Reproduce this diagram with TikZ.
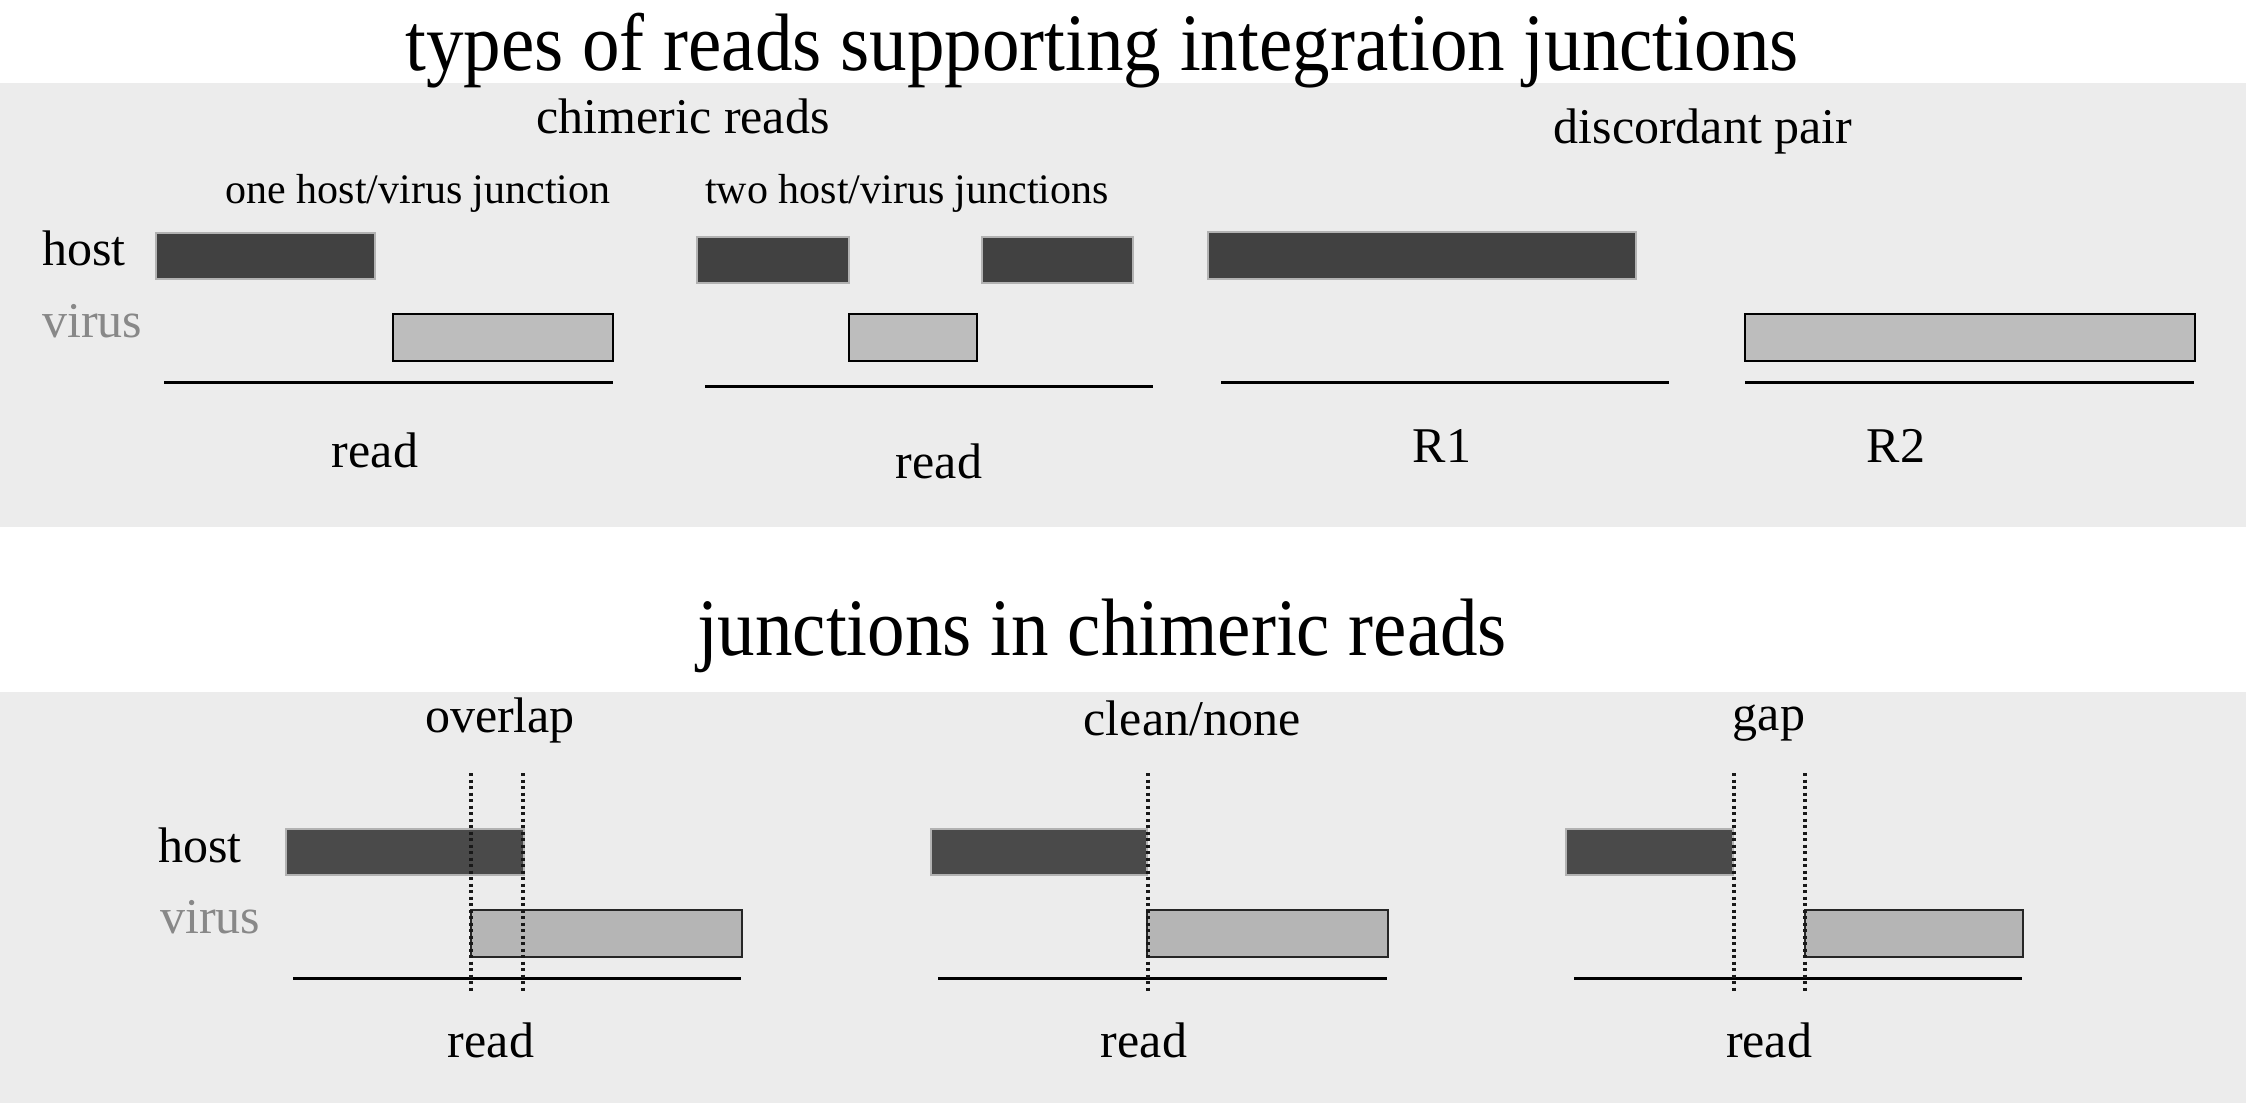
\documentclass[tikz,border=0pt]{standalone}
\usepackage{fontspec}
\setmainfont{Liberation Serif}
\newfontfamily\titlefont[FakeStretch=0.92]{Liberation Serif}
\usetikzlibrary{positioning}

\definecolor{panelgray}{HTML}{ECECEC}
\definecolor{hostgray}{HTML}{414141}
\definecolor{hostgrayb}{HTML}{4A4A4A}
\definecolor{virusgray}{HTML}{BDBDBD}
\definecolor{virusgrayb}{HTML}{B5B5B5}
\definecolor{viruslabel}{HTML}{888888}

\begin{document}
\begin{tikzpicture}[x=1pt, y=-1pt,
                          panel/.style={fill=panelgray, draw=none},
                          hostbar/.style={fill=hostgray, draw=gray!60, line width=1.5pt},
                          hostbar_b/.style={fill=hostgrayb, draw=gray!60, line width=1.5pt},
                          virusbar/.style={fill=virusgray, draw=black, line width=2pt},
                          virusbar_b/.style={fill=virusgrayb, draw=black!85, line width=2pt},
                          readline/.style={draw=black, line width=3pt},
                          junctionline/.style={draw=black!90, line width=3.5pt, dash pattern=on 3pt off 3.5pt},
                          bigtitle/.style={anchor=base, inner sep=0pt, font=\titlefont\fontsize{81.5}{95}\selectfont},
                          midtext/.style={anchor=base, inner sep=0pt, font=\fontsize{50}{60}\selectfont},
                          smalltext/.style={anchor=base, inner sep=0pt, font=\fontsize{42}{50}\selectfont},
                      ]
                      \useasboundingbox (0,0) rectangle (2246,1103);

                      % Panels
                      \fill[panel] (0,83) rectangle (2246,527);
                      \fill[panel] (0,692) rectangle (2246,1103);

                      % Titles
                      \node[bigtitle]         (title_top)     at (1102,70)      {types of reads supporting integration junctions};
                      \node[bigtitle]         (title_bottom)  at (1102,655)     {junctions in chimeric reads};

                      % Top panel: headings
                      \node[midtext]          (chimeric)      at (683,133)      {chimeric reads};
                      \node[midtext]          (discordant)    at (1703,143)     {discordant pair};
                      \node[smalltext]        (one_junc)      at (418,203)      {one host/virus junction};
                      \node[smalltext]        (two_junc)      at (907,203)      {two host/virus junctions};
                      \node[midtext, anchor=base west]                  (host_top)  at (42,265)  {host};
                      \node[midtext, anchor=base west, text=viruslabel] (virus_top) at (42,337)  {virus};

                      % Top panel: one junction
                      \draw[hostbar]  (156,233) rectangle (375,279);
                      \draw[virusbar] (393,314) rectangle (613,361);
                      \draw[readline] (164,382) -- (613,382);
                      \node[midtext]          (read_one)      at (375,467)      {read};

                      % Top panel: two junctions
                      \draw[hostbar]  (697,237) rectangle (849,283);
                      \draw[hostbar]  (982,237) rectangle (1133,283);
                      \draw[virusbar] (849,314) rectangle (977,361);
                      \draw[readline] (705,386) -- (1153,386);
                      \node[midtext]          (read_two)      at (939,478)      {read};

                      % Top panel: discordant pair
                      \draw[hostbar]  (1208,232) rectangle (1636,279);
                      \draw[readline] (1221,382) -- (1669,382);
                      \node[midtext]          (r_one)         at (1442,462)     {R1};
                      \draw[virusbar] (1745,314) rectangle (2195,361);
                      \draw[readline] (1745,382) -- (2194,382);
                      \node[midtext]          (r_two)         at (1896,462)     {R2};

                      % Bottom panel: headings
                      \node[midtext]          (overlap)       at (500,732)      {overlap};
                      \node[midtext]          (clean)         at (1192,735)     {clean/none};
                      \node[midtext]          (gap)           at (1769,730)     {gap};
                      \node[midtext, anchor=base west]                  (host_bottom)  at (158,862)  {host};
                      \node[midtext, anchor=base west, text=viruslabel] (virus_bottom) at (160,933)  {virus};

                      % Bottom panel: overlap
                      \draw[hostbar_b]  (286,829) rectangle (524,875);
                      \draw[virusbar_b] (471,910) rectangle (742,957);
                      \draw[readline]   (293,978) -- (741,978);
                      \draw[junctionline] (471,773) -- (471,994);
                      \draw[junctionline] (523,773) -- (523,994);
                      \node[midtext]          (read_overlap)  at (491,1057)     {read};

                      % Bottom panel: clean/none
                      \draw[hostbar_b]  (931,829) rectangle (1147,875);
                      \draw[virusbar_b] (1147,910) rectangle (1388,957);
                      \draw[readline]   (938,978) -- (1387,978);
                      \draw[junctionline] (1148,773) -- (1148,994);
                      \node[midtext]          (read_clean)    at (1144,1057)    {read};

                      % Bottom panel: gap
                      \draw[hostbar_b]  (1566,829) rectangle (1733,875);
                      \draw[virusbar_b] (1805,910) rectangle (2023,957);
                      \draw[readline]   (1574,978) -- (2022,978);
                      \draw[junctionline] (1734,773) -- (1734,994);
                      \draw[junctionline] (1805,773) -- (1805,994);
                      \node[midtext]          (read_gap)      at (1769,1057)    {read};
                  \end{tikzpicture}
\end{document}
